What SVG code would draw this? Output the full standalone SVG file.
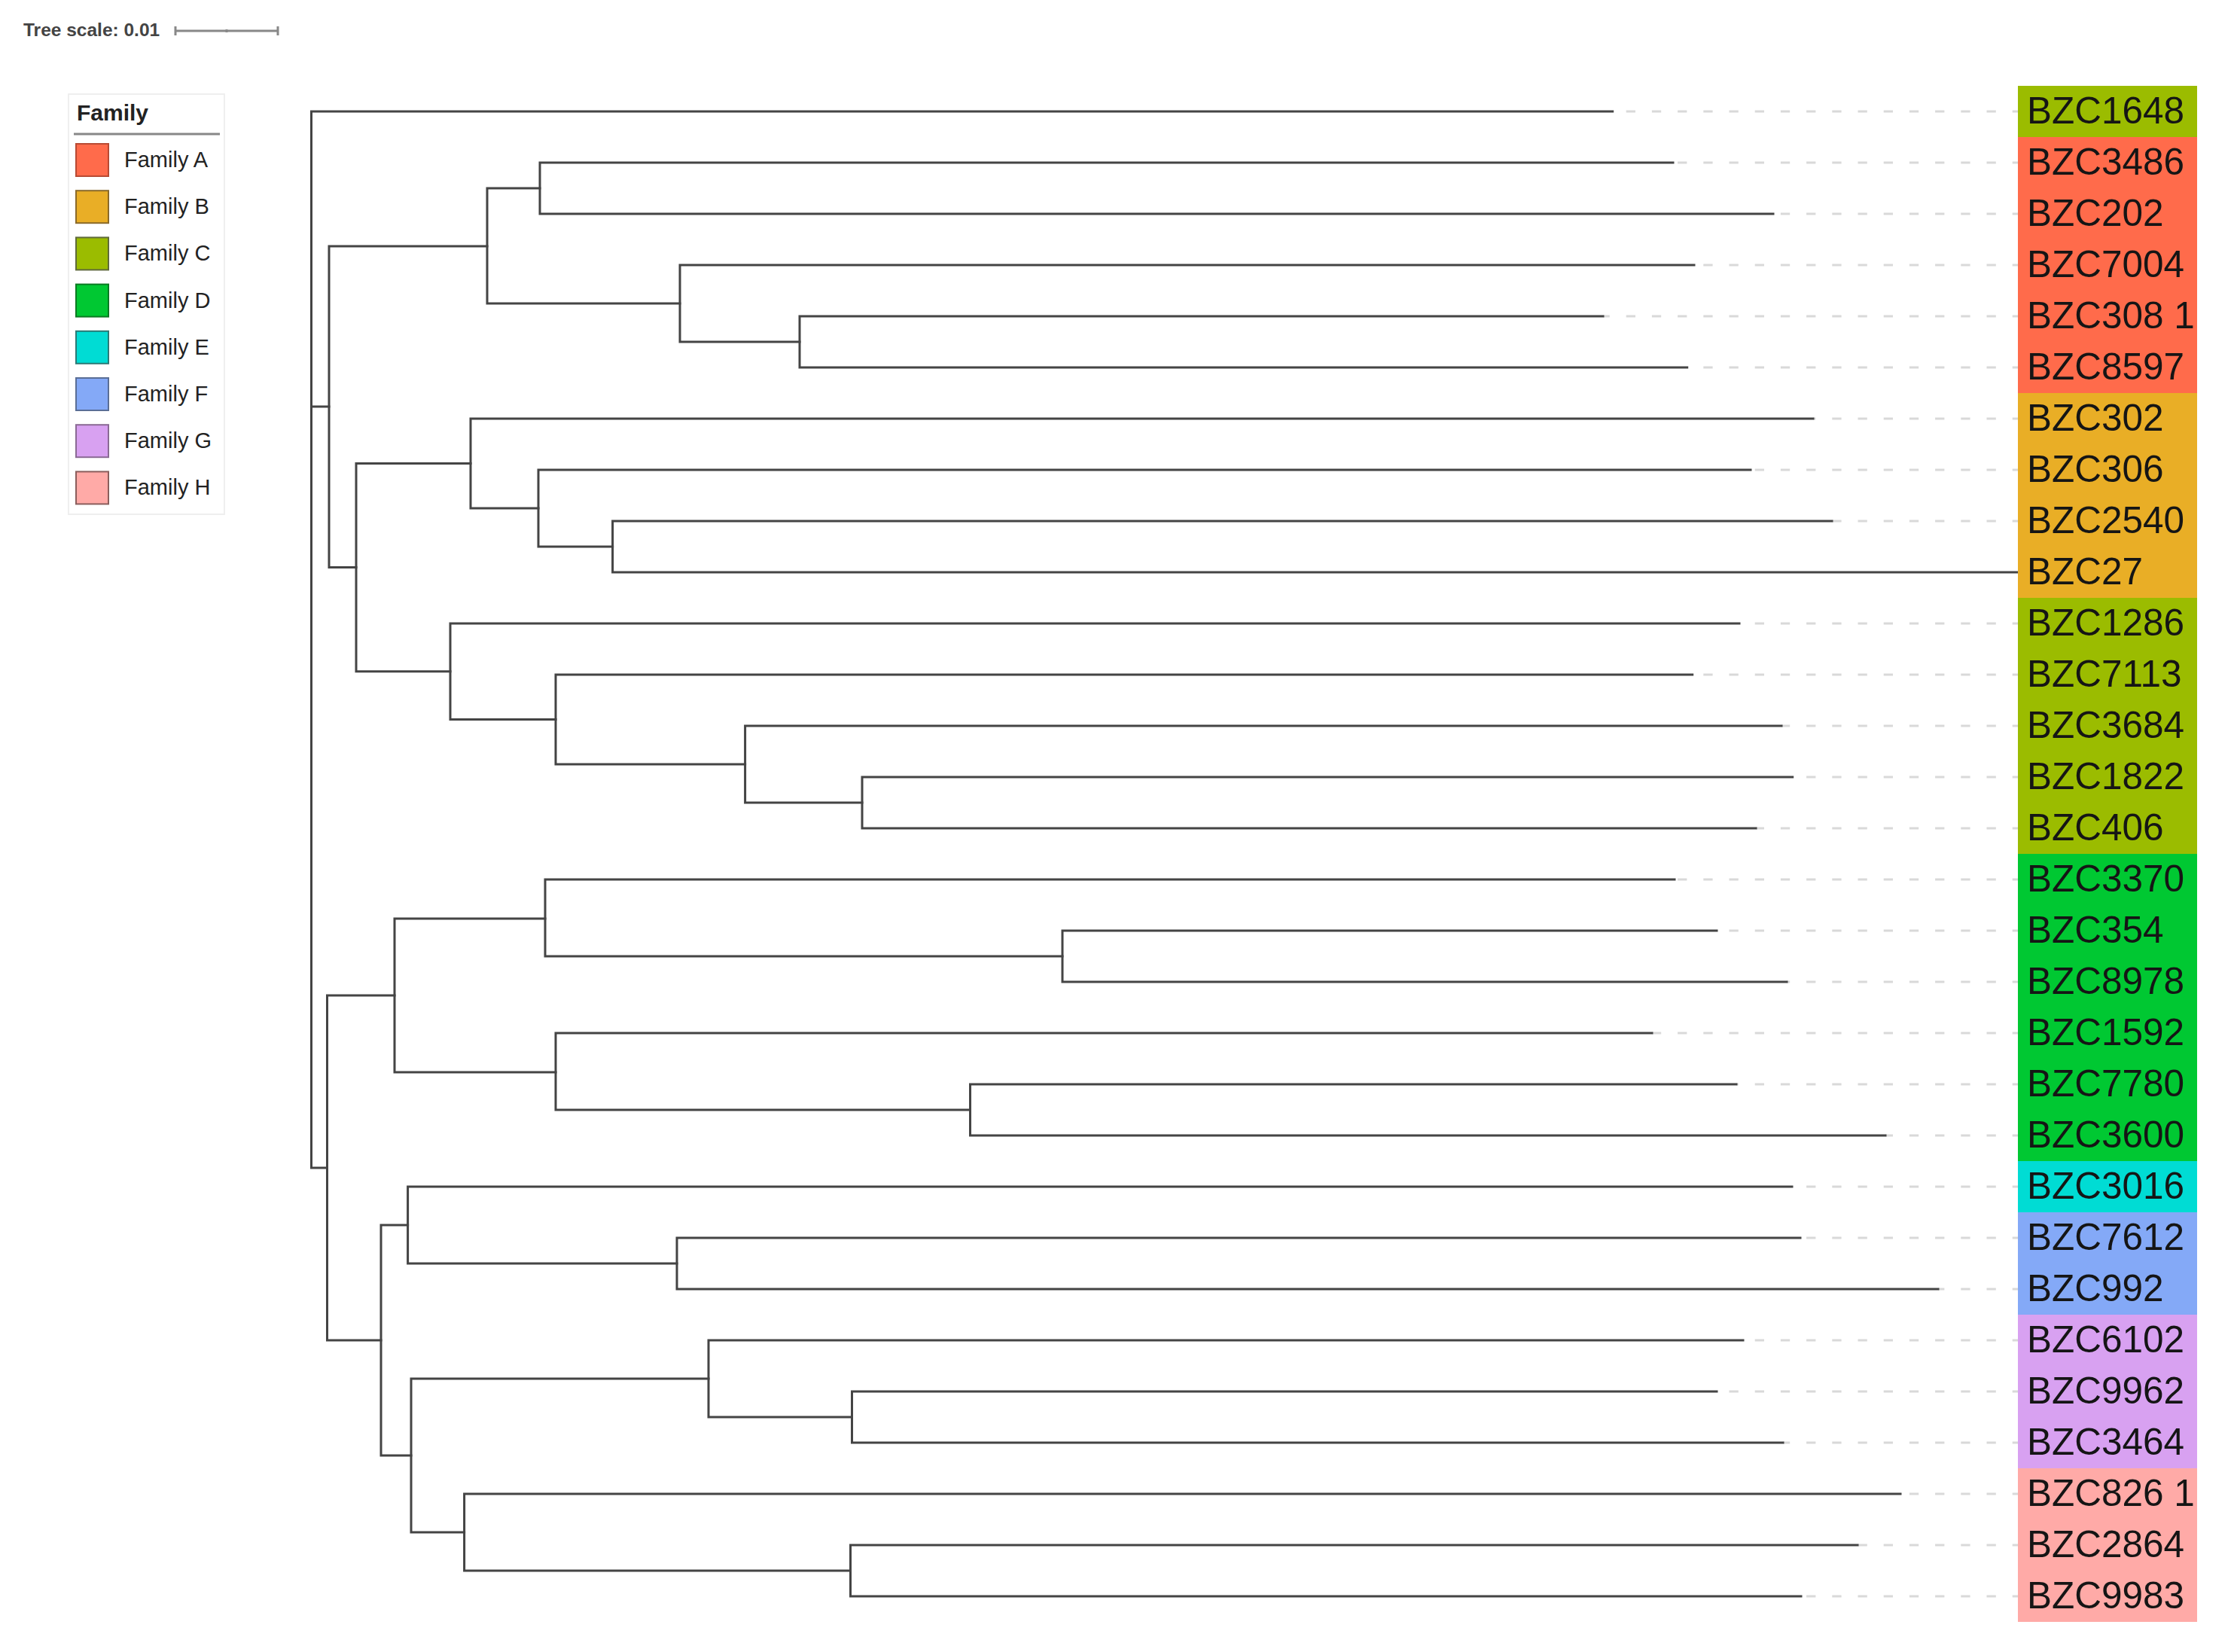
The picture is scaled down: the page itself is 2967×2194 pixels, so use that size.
<svg xmlns="http://www.w3.org/2000/svg" width="2967" height="2194" viewBox="0 0 2967 2194">
<style>
.br{fill:none;stroke:#444;stroke-width:3;stroke-linecap:square}
.dash{fill:none;stroke:#d9d9d9;stroke-width:3;stroke-dasharray:12.3 21.9}
.lbl{font-family:"Liberation Sans",Arial,sans-serif;font-size:49.5px;fill:#151515}
.leg{font-family:"Liberation Sans",Arial,sans-serif;font-size:29px;fill:#222}
.sw{stroke-width:2}
.fa{fill:#ff6b4b}.fb{fill:#e9ae26}.fc{fill:#9bbc00}.fd{fill:#00c832}
.fe{fill:#00dcd4}.ff{fill:#84a9f7}.fg{fill:#d8a1f1}.fh{fill:#ffaaa7}
</style>
<rect width="2967" height="2194" fill="#fff"/>
<g id="scale">
<text x="31" y="48" font-family="Liberation Sans,Arial,sans-serif" font-weight="bold" font-size="24.5" fill="#444">Tree scale: 0.01</text>
<path d="M233,41 H369 M233,35 V47 M369,35 V47 M301,39 V43" stroke="#888" stroke-width="3" fill="none"/>
</g>
<g id="legend">
<rect x="91" y="125" width="207" height="558" fill="#fff" stroke="#efefef" stroke-width="2"/>
<text x="102" y="160" font-family="Liberation Sans,Arial,sans-serif" font-weight="bold" font-size="30" fill="#222">Family</text>
<line x1="98" y1="178" x2="292" y2="178" stroke="#888" stroke-width="3"/>
<rect class="sw fa" x="101" y="191" width="43" height="43" stroke="#b84a33"/>
<text class="leg" x="165" y="222">Family A</text>
<rect class="sw fb" x="101" y="253.2" width="43" height="43" stroke="#8a6a2a"/>
<text class="leg" x="165" y="284.2">Family B</text>
<rect class="sw fc" x="101" y="315.4" width="43" height="43" stroke="#5f6a3a"/>
<text class="leg" x="165" y="346.4">Family C</text>
<rect class="sw fd" x="101" y="377.6" width="43" height="43" stroke="#0a7a22"/>
<text class="leg" x="165" y="408.6">Family D</text>
<rect class="sw fe" x="101" y="439.8" width="43" height="43" stroke="#2a7a76"/>
<text class="leg" x="165" y="470.8">Family E</text>
<rect class="sw ff" x="101" y="502" width="43" height="43" stroke="#5a6e96"/>
<text class="leg" x="165" y="533">Family F</text>
<rect class="sw fg" x="101" y="564.2" width="43" height="43" stroke="#8a6a94"/>
<text class="leg" x="165" y="595.2">Family G</text>
<rect class="sw fh" x="101" y="626.4" width="43" height="43" stroke="#8a5e5c"/>
<text class="leg" x="165" y="657.4">Family H</text>
</g>
<g id="connectors">
<path class="dash" d="M2685,148 H2142 M2685,216 H2222 M2685,284 H2355 M2685,352 H2250 M2685,420 H2129 M2685,488 H2241 M2685,556 H2408 M2685,624 H2325 M2685,692 H2433 M2685,828 H2310 M2685,896 H2248 M2685,964 H2366 M2685,1032 H2381 M2685,1100 H2332 M2685,1168 H2224 M2685,1236 H2280 M2685,1304 H2373 M2685,1372 H2194 M2685,1440 H2306 M2685,1508 H2504 M2685,1576 H2380 M2685,1644 H2391 M2685,1712 H2574 M2685,1780 H2315 M2685,1848 H2280 M2685,1916 H2368 M2685,1984 H2524 M2685,2052 H2467 M2685,2120 H2392"/>
<path class="br" d="M413.5,148 V1551 M413.5,148 H2141.7 M413.5,540 H437 M413.5,1551 H434.5"/>
<path class="br" d="M437,327 V753.6 M437,327 H647 M437,753.6 H473"/>
<path class="br" d="M647,250 V403 M647,250 H717 M647,403 H903"/>
<path class="br" d="M717,216 V284 M717,216 H2222 M717,284 H2355"/>
<path class="br" d="M903,352 V454 M903,352 H2250 M903,454 H1062"/>
<path class="br" d="M1062,420 V488 M1062,420 H2129 M1062,488 H2240.7"/>
<path class="br" d="M473,615.5 V891.75 M473,615.5 H625 M473,891.75 H598"/>
<path class="br" d="M625,556 V675 M625,556 H2408 M625,675 H715"/>
<path class="br" d="M715,624 V726 M715,624 H2325 M715,726 H813.6"/>
<path class="br" d="M813.6,692 V760 M813.6,692 H2433 M813.6,760 H2680"/>
<path class="br" d="M598,828 V955.5 M598,828 H2310 M598,955.5 H738"/>
<path class="br" d="M738,896 V1015 M738,896 H2247.7 M738,1015 H989.6"/>
<path class="br" d="M989.6,964 V1066 M989.6,964 H2366 M989.6,1066 H1145"/>
<path class="br" d="M1145,1032 V1100 M1145,1032 H2380.7 M1145,1100 H2332"/>
<path class="br" d="M434.5,1322 V1780 M434.5,1322 H524 M434.5,1780 H506"/>
<path class="br" d="M524,1220 V1424 M524,1220 H724 M524,1424 H738"/>
<path class="br" d="M724,1168 V1270 M724,1168 H2224 M724,1270 H1411"/>
<path class="br" d="M1411,1236 V1304 M1411,1236 H2280 M1411,1304 H2373"/>
<path class="br" d="M738,1372 V1474 M738,1372 H2194 M738,1474 H1288.5"/>
<path class="br" d="M1288.5,1440 V1508 M1288.5,1440 H2306 M1288.5,1508 H2504"/>
<path class="br" d="M506,1627 V1933 M506,1627 H541.6 M506,1933 H546"/>
<path class="br" d="M541.6,1576 V1678 M541.6,1576 H2380 M541.6,1678 H899"/>
<path class="br" d="M899,1644 V1712 M899,1644 H2391 M899,1712 H2574"/>
<path class="br" d="M546,1831 V2035 M546,1831 H941 M546,2035 H616.6"/>
<path class="br" d="M941,1780 V1882 M941,1780 H2315 M941,1882 H1131.5"/>
<path class="br" d="M1131.5,1848 V1916 M1131.5,1848 H2280 M1131.5,1916 H2368"/>
<path class="br" d="M616.6,1984 V2086 M616.6,1984 H2524 M616.6,2086 H1129.5"/>
<path class="br" d="M1129.5,2052 V2120 M1129.5,2052 H2467 M1129.5,2120 H2392"/>
</g>
<g id="leaf-BZC1648"><rect class="fc" x="2680" y="114" width="238" height="68"/><text class="lbl" x="2692" y="164">BZC1648</text></g>
<g id="leaf-BZC3486"><rect class="fa" x="2680" y="182" width="238" height="68"/><text class="lbl" x="2692" y="232">BZC3486</text></g>
<g id="leaf-BZC202"><rect class="fa" x="2680" y="250" width="238" height="68"/><text class="lbl" x="2692" y="300">BZC202</text></g>
<g id="leaf-BZC7004"><rect class="fa" x="2680" y="318" width="238" height="68"/><text class="lbl" x="2692" y="368">BZC7004</text></g>
<g id="leaf-BZC3081"><rect class="fa" x="2680" y="386" width="238" height="68"/><text class="lbl" x="2692" y="436">BZC308 1</text></g>
<g id="leaf-BZC8597"><rect class="fa" x="2680" y="454" width="238" height="68"/><text class="lbl" x="2692" y="504">BZC8597</text></g>
<g id="leaf-BZC302"><rect class="fb" x="2680" y="522" width="238" height="68"/><text class="lbl" x="2692" y="572">BZC302</text></g>
<g id="leaf-BZC306"><rect class="fb" x="2680" y="590" width="238" height="68"/><text class="lbl" x="2692" y="640">BZC306</text></g>
<g id="leaf-BZC2540"><rect class="fb" x="2680" y="658" width="238" height="68"/><text class="lbl" x="2692" y="708">BZC2540</text></g>
<g id="leaf-BZC27"><rect class="fb" x="2680" y="726" width="238" height="68"/><text class="lbl" x="2692" y="776">BZC27</text></g>
<g id="leaf-BZC1286"><rect class="fc" x="2680" y="794" width="238" height="68"/><text class="lbl" x="2692" y="844">BZC1286</text></g>
<g id="leaf-BZC7113"><rect class="fc" x="2680" y="862" width="238" height="68"/><text class="lbl" x="2692" y="912">BZC7113</text></g>
<g id="leaf-BZC3684"><rect class="fc" x="2680" y="930" width="238" height="68"/><text class="lbl" x="2692" y="980">BZC3684</text></g>
<g id="leaf-BZC1822"><rect class="fc" x="2680" y="998" width="238" height="68"/><text class="lbl" x="2692" y="1048">BZC1822</text></g>
<g id="leaf-BZC406"><rect class="fc" x="2680" y="1066" width="238" height="68"/><text class="lbl" x="2692" y="1116">BZC406</text></g>
<g id="leaf-BZC3370"><rect class="fd" x="2680" y="1134" width="238" height="68"/><text class="lbl" x="2692" y="1184">BZC3370</text></g>
<g id="leaf-BZC354"><rect class="fd" x="2680" y="1202" width="238" height="68"/><text class="lbl" x="2692" y="1252">BZC354</text></g>
<g id="leaf-BZC8978"><rect class="fd" x="2680" y="1270" width="238" height="68"/><text class="lbl" x="2692" y="1320">BZC8978</text></g>
<g id="leaf-BZC1592"><rect class="fd" x="2680" y="1338" width="238" height="68"/><text class="lbl" x="2692" y="1388">BZC1592</text></g>
<g id="leaf-BZC7780"><rect class="fd" x="2680" y="1406" width="238" height="68"/><text class="lbl" x="2692" y="1456">BZC7780</text></g>
<g id="leaf-BZC3600"><rect class="fd" x="2680" y="1474" width="238" height="68"/><text class="lbl" x="2692" y="1524">BZC3600</text></g>
<g id="leaf-BZC3016"><rect class="fe" x="2680" y="1542" width="238" height="68"/><text class="lbl" x="2692" y="1592">BZC3016</text></g>
<g id="leaf-BZC7612"><rect class="ff" x="2680" y="1610" width="238" height="68"/><text class="lbl" x="2692" y="1660">BZC7612</text></g>
<g id="leaf-BZC992"><rect class="ff" x="2680" y="1678" width="238" height="68"/><text class="lbl" x="2692" y="1728">BZC992</text></g>
<g id="leaf-BZC6102"><rect class="fg" x="2680" y="1746" width="238" height="68"/><text class="lbl" x="2692" y="1796">BZC6102</text></g>
<g id="leaf-BZC9962"><rect class="fg" x="2680" y="1814" width="238" height="68"/><text class="lbl" x="2692" y="1864">BZC9962</text></g>
<g id="leaf-BZC3464"><rect class="fg" x="2680" y="1882" width="238" height="68"/><text class="lbl" x="2692" y="1932">BZC3464</text></g>
<g id="leaf-BZC8261"><rect class="fh" x="2680" y="1950" width="238" height="68"/><text class="lbl" x="2692" y="2000">BZC826 1</text></g>
<g id="leaf-BZC2864"><rect class="fh" x="2680" y="2018" width="238" height="68"/><text class="lbl" x="2692" y="2068">BZC2864</text></g>
<g id="leaf-BZC9983"><rect class="fh" x="2680" y="2086" width="238" height="68"/><text class="lbl" x="2692" y="2136">BZC9983</text></g>
</svg>
